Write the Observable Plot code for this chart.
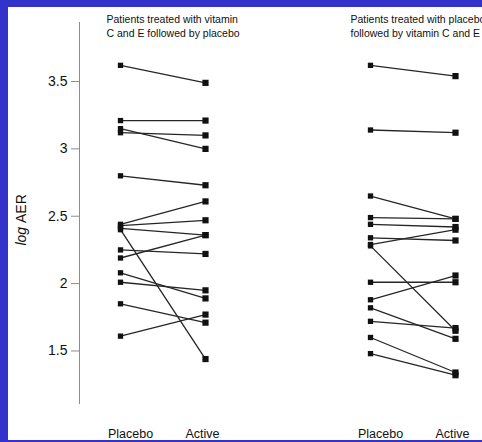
<!DOCTYPE html>
<html>
<head>
<meta charset="utf-8">
<script src="https://cdn.jsdelivr.net/npm/d3@7"></script>
<script src="https://cdn.jsdelivr.net/npm/@observablehq/plot@0.6"></script>
<style>
  html, body { margin: 0; padding: 0; background: #3333cc; width: 482px; height: 442px; overflow: hidden; }
  #panel { position: absolute; left: 8px; top: 7px; width: 474px; height: 433px; background: #fff; overflow: hidden; }
  #panel svg { max-width: none !important; }
</style>
</head>
<body>
<div id="panel"></div>
<script>
// Treatment periods shown on the x axis of each panel
const periods = ["Placebo", "Active"];

// Panel headings (one per treatment order)
const groups = [
  "Patients treated with vitamin\nC and E followed by placebo",
  "Patients treated with placebo\nfollowed by vitamin C and E"
];

// log AER per patient: vitamin C and E first, then placebo
const vitaminFirstPlacebo = [3.62, 3.21, 3.15, 3.12, 2.80, 2.44, 2.43, 2.41, 2.40, 2.25, 2.19, 2.08, 2.01, 1.85, 1.61];
const vitaminFirstActive  = [3.49, 3.21, 3.00, 3.10, 2.73, 2.61, 2.47, 2.36, 1.44, 2.22, 2.36, 1.89, 1.95, 1.71, 1.77];

// log AER per patient: placebo first, then vitamin C and E
const placeboFirstPlacebo = [3.62, 3.14, 2.65, 2.49, 2.44, 2.34, 2.29, 2.28, 2.01, 1.88, 1.82, 1.72, 1.60, 1.48];
const placeboFirstActive  = [3.54, 3.12, 2.48, 2.48, 2.42, 2.32, 2.40, 1.65, 2.01, 2.06, 1.59, 1.67, 1.34, 1.32];

// y axis tick values
const yTicks = [1.5, 2, 2.5, 3, 3.5];

// Long-format rows: one per patient per period
const rows = [];
[[vitaminFirstPlacebo, vitaminFirstActive], [placeboFirstPlacebo, placeboFirstActive]].forEach(([pl, ac], g) => {
  pl.forEach((v, i) => {
    rows.push({group: groups[g], id: `${g}-${i}`, period: periods[0], value: v});
    rows.push({group: groups[g], id: `${g}-${i}`, period: periods[1], value: ac[i]});
  });
});

const ink = "#111";

const chart = Plot.plot({
  width: 488,
  height: 433,
  marginLeft: 71,
  marginRight: 0,
  marginTop: 15,
  marginBottom: 37,
  style: {background: "#fff", fontFamily: "'Liberation Sans', Arial, sans-serif", color: ink, maxWidth: "none"},
  fx: {domain: groups, paddingInner: 0.332, paddingOuter: 0, axis: null, label: null},
  x: {type: "point", domain: periods, padding: 0.482, axis: null},
  y: {domain: [1.11, 3.938], axis: null},
  marks: [
    // vertical axis line on the left panel only
    Plot.frame({anchor: "left", stroke: "#8c8c8c", strokeWidth: 1, fx: () => groups[0]}),
    Plot.axisY(yTicks, {
      tickSize: 8, tickPadding: 4, fontSize: 14, stroke: "#8c8c8c",
      tickFormat: d => String(d), label: null
    }),
    // y label: italic "log" followed by "AER", read bottom to top
    Plot.text(["log "], {fx: () => groups[0], text: d => d, frameAnchor: "left", rotate: -90,
      textAnchor: "end", dx: -58, dy: 10, fontSize: 14, fontStyle: "italic", fill: ink}),
    Plot.text(["AER"], {fx: () => groups[0], text: d => d, frameAnchor: "left", rotate: -90,
      textAnchor: "start", dx: -58, dy: 10, fontSize: 14, fill: ink}),
    // period labels under each panel
    Plot.axisX([periods[0]], {tickSize: 0, tickPadding: 26, fontSize: 12.5, dx: 10, label: null, fill: ink}),
    Plot.axisX([periods[1]], {tickSize: 0, tickPadding: 26, fontSize: 12.5, dx: -3, label: null, fill: ink}),
    // panel headings
    Plot.text([groups[0]], {fx: d => d, x: () => periods[0], text: d => d, frameAnchor: "top",
      textAnchor: "start", lineAnchor: "top", dx: -14, dy: -10, fontSize: 10.5, lineHeight: 1.38, fill: ink}),
    Plot.text([groups[1]], {fx: d => d, x: () => periods[0], text: d => d, frameAnchor: "top",
      textAnchor: "start", lineAnchor: "top", dx: -20, dy: -10, fontSize: 10.5, lineHeight: 1.38, fill: ink}),
    // one line per patient joining placebo and active values
    Plot.line(rows, {fx: "group", x: "period", y: "value", z: "id", stroke: "#262626", strokeWidth: 1.3}),
    Plot.dot(rows.filter(d => d.period === periods[0]), {fx: "group", x: "period", y: "value",
      symbol: "square", r: 3, fill: ink, stroke: "none"}),
    Plot.dot(rows.filter(d => d.period === periods[1]), {fx: "group", x: "period", y: "value",
      symbol: "square", r: 3.5, fill: ink, stroke: "none"})
  ]
});

document.getElementById("panel").appendChild(chart);
</script>
</body>
</html>
